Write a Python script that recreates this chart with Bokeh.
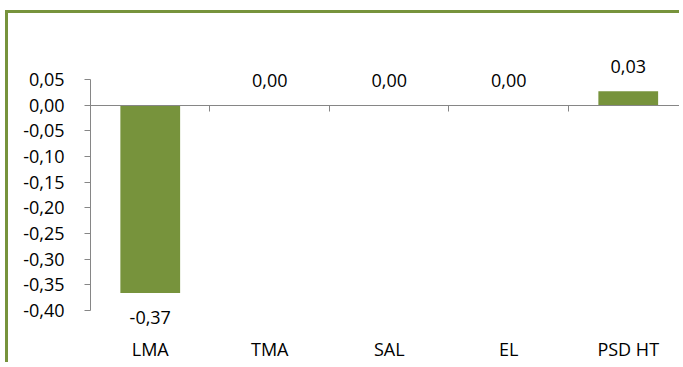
from bokeh.plotting import figure
from bokeh.models import (ColumnDataSource, Range1d, LinearAxis, FixedTicker,
                          CustomJSTickFormatter)
from bokeh.core.properties import value
from bokeh.embed import file_html
from bokeh.resources import INLINE

# ---- data ----
categories = ["LMA", "TMA", "SAL", "EL", "PSD HT"]
values = [-0.366, 0.0, 0.0, 0.0, 0.027]
labels = ["-0,37", "0,00", "0,00", "0,00", "0,03"]
y_ticks = [0.05, 0.0, -0.05, -0.10, -0.15, -0.20, -0.25, -0.30, -0.35, -0.40]

GREEN = "#77933C"
AXIS = "#868686"
FONT = "Open Sans"
FS = "18px"

xs = [i + 0.5 for i in range(len(categories))]
src = ColumnDataSource(dict(x=xs, v=values, label=labels))

p = figure(width=674, height=352, output_backend="svg", toolbar_location=None,
           x_range=Range1d(0, 4.954), y_range=Range1d(-0.507, 0.1786),
           min_border_left=82, min_border_right=0, min_border_top=0,
           min_border_bottom=0, x_axis_type=None, y_axis_type=None)
p.outline_line_color = None
p.styles = {"border-left": f"3px solid {GREEN}", "border-top": f"3px solid {GREEN}",
            "margin-top": "10px", "margin-left": "5px"}

# y axis
yaxis = LinearAxis(
    ticker=FixedTicker(ticks=y_ticks), bounds=(min(y_ticks), max(y_ticks)),
    formatter=CustomJSTickFormatter(code="var t = Math.abs(tick) < 1e-9 ? 0 : tick; return t.toFixed(2).replace('.', ',');"),
    axis_line_color=AXIS, major_tick_line_color=AXIS, major_tick_out=6, major_tick_in=0,
    minor_tick_line_color=None, major_label_standoff=20,
    major_label_text_font=FONT, major_label_text_font_size=FS,
    major_label_text_color="black")
p.add_layout(yaxis, "left")

# horizontal axis line at zero with category boundary ticks
zero_axis = LinearAxis(
    ticker=FixedTicker(ticks=list(range(len(categories) + 1))), fixed_location=0,
    formatter=CustomJSTickFormatter(code="return '';"),
    axis_line_color=AXIS, major_tick_line_color=AXIS, major_tick_out=6, major_tick_in=0,
    minor_tick_line_color=None)
p.add_layout(zero_axis, "below")

# category labels axis
cat_axis = LinearAxis(
    ticker=FixedTicker(ticks=xs), fixed_location=-0.442,
    formatter=CustomJSTickFormatter(args=dict(names=categories),
                                    code="return names[Math.floor(tick)];"),
    axis_line_color=None, major_tick_line_color=None, minor_tick_line_color=None,
    major_tick_out=0, major_tick_in=0,
    major_label_standoff=5, major_label_text_font=FONT, major_label_text_font_size=FS,
    major_label_text_color="black")
p.add_layout(cat_axis, "below")

p.vbar(x="x", top="v", bottom=0, width=0.5, source=src,
       fill_color=GREEN, line_color=None)

pos = ColumnDataSource(dict(
    x=[x for x, v in zip(xs, values) if v >= 0],
    v=[v for v in values if v >= 0],
    label=[l for l, v in zip(labels, values) if v >= 0]))
neg = ColumnDataSource(dict(
    x=[x for x, v in zip(xs, values) if v < 0],
    v=[v for v in values if v < 0],
    label=[l for l, v in zip(labels, values) if v < 0]))

p.text(x="x", y="v", text="label", source=pos, text_align="center",
       text_baseline="bottom", y_offset=-18, text_font=value(FONT),
       text_font_size=FS, text_color="black")
p.text(x="x", y="v", text="label", source=neg, text_align="center",
       text_baseline="top", y_offset=18, text_font=value(FONT),
       text_font_size=FS, text_color="black")

open("out.html", "w").write(file_html(p, INLINE))
